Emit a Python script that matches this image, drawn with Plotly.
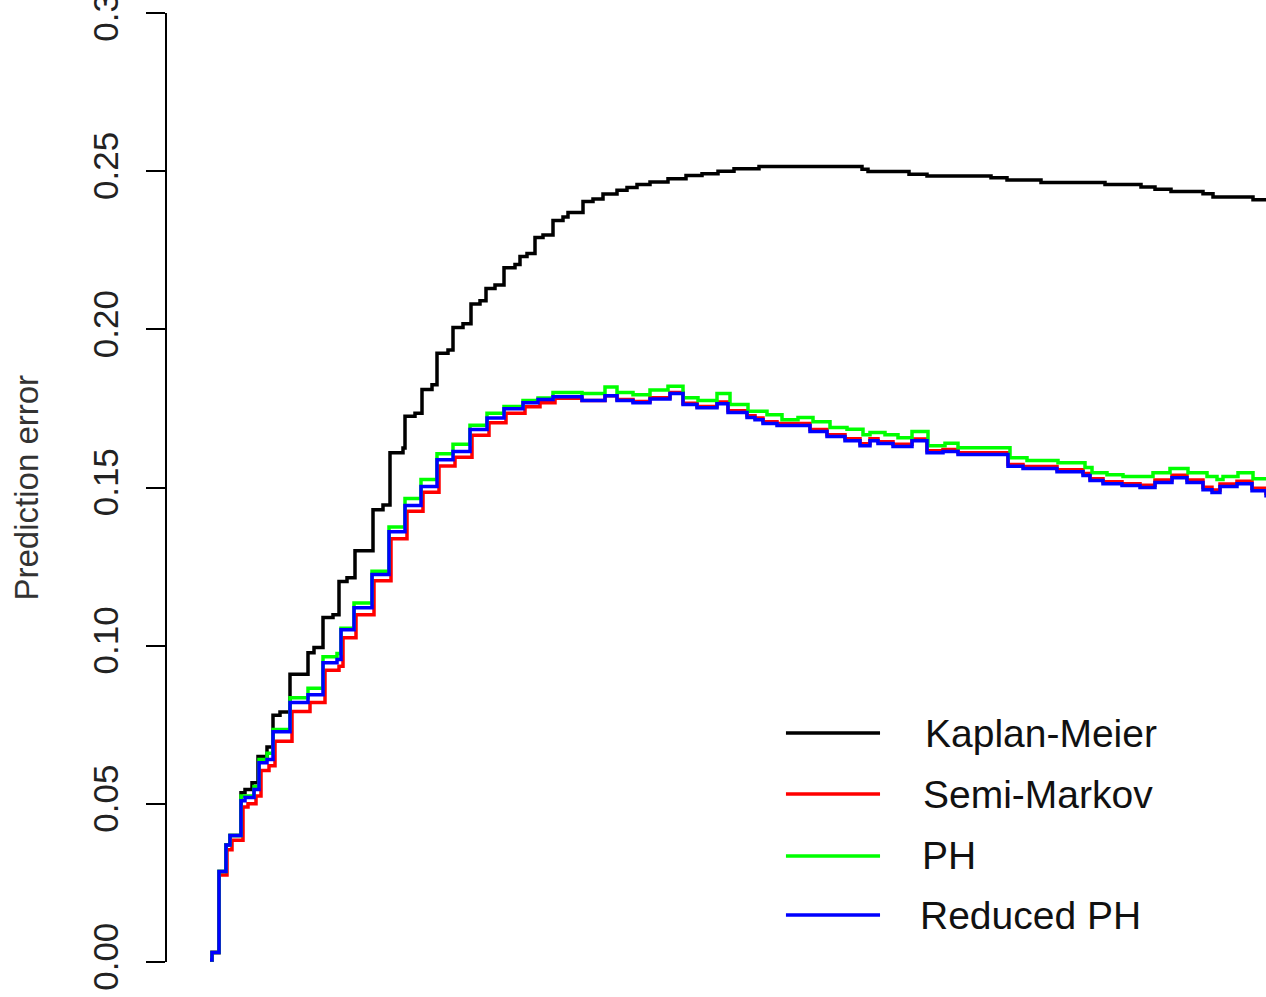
import plotly.graph_objects as go

# ---- data (time in days, prediction error) ----
km_t = [0, 2, 9, 16, 20, 31, 35, 42, 48, 57, 63, 70, 80, 98, 104, 113, 123, 129, 137, 145,
        163, 173, 180, 193, 195, 205, 212, 222, 227, 238, 243, 253, 261, 270, 276, 285, 294,
        305, 310, 317, 325, 333, 343, 353, 358, 373, 383, 393, 407, 417, 427, 440, 458, 476,
        492, 508, 524, 549, 652, 658, 699, 717, 781, 797, 831, 895, 931, 945, 961, 993, 1003,
        1043, 1056]
km_v = [0.0006, 0.003, 0.0286, 0.037, 0.040, 0.0535, 0.0545, 0.0567, 0.065, 0.068, 0.078,
        0.079, 0.091, 0.0978, 0.0994, 0.1089, 0.1098, 0.1203, 0.1215, 0.130, 0.143, 0.1445,
        0.161, 0.1625, 0.1725, 0.1735, 0.181, 0.1825, 0.1924, 0.1935, 0.2006, 0.2018, 0.208,
        0.209, 0.2129, 0.214, 0.2195, 0.2205, 0.2230, 0.2240, 0.229, 0.2298, 0.2344, 0.2355,
        0.2369, 0.2404, 0.2412, 0.2428, 0.2440, 0.2448, 0.2458, 0.2466, 0.2476, 0.2486,
        0.2492, 0.2500, 0.2508, 0.2515, 0.2506, 0.2499, 0.2490, 0.2485, 0.2479, 0.2472,
        0.2464, 0.2458, 0.2450, 0.2443, 0.2436, 0.2429, 0.2418, 0.2410, 0.2410]

sm_t = [0, 2, 9, 17, 22, 33, 38, 46, 51, 59, 65, 82, 100, 115, 129, 133, 146, 164, 181, 197,
        213, 229, 245, 262, 279, 296, 315, 330, 345, 372, 395, 407, 423, 440, 460, 473, 487,
        507, 518, 537, 545, 553, 567, 600, 617, 635, 650, 660, 668, 683, 702, 717, 733, 748,
        798, 813, 847, 873, 880, 893, 912, 930, 945, 962, 977, 993, 1002, 1010, 1027, 1042,
        1056]
sm_v = [0.0006, 0.003, 0.0275, 0.0355, 0.0385, 0.049, 0.050, 0.0525, 0.0605, 0.062, 0.0698,
        0.0792, 0.082, 0.0922, 0.0935, 0.1025, 0.1098, 0.1205, 0.1338, 0.1425, 0.1485, 0.1568,
        0.1596, 0.1665, 0.1705, 0.1735, 0.1755, 0.1768, 0.1782, 0.1775, 0.1790, 0.1778,
        0.1772, 0.1784, 0.1800, 0.1766, 0.1756, 0.1770, 0.1743, 0.1727, 0.1720, 0.1708,
        0.1702, 0.1683, 0.1667, 0.1654, 0.1638, 0.1654, 0.1645, 0.1637, 0.1653, 0.1616,
        0.1620, 0.1610, 0.1573, 0.1566, 0.1556, 0.1544, 0.1528, 0.1518, 0.1512, 0.1507,
        0.1524, 0.1539, 0.1524, 0.1501, 0.1492, 0.1511, 0.1520, 0.1498, 0.1476]

ph_t = [0, 2, 9, 16, 20, 31, 44, 49, 57, 63, 80, 98, 113, 127, 131, 144, 162, 179, 195, 211,
        227, 243, 260, 277, 294, 313, 328, 343, 372, 395, 407, 423, 440, 458, 473, 488, 507,
        520, 538, 557, 572, 588, 603, 620, 637, 653, 660, 675, 688, 702, 718, 735, 748, 800,
        817, 848, 875, 882, 897, 913, 943, 960, 978, 997, 1007, 1013, 1028, 1043, 1056]
ph_v = [0.0006, 0.003, 0.0286, 0.037, 0.040, 0.0525, 0.0555, 0.064, 0.066, 0.0735, 0.0835,
        0.0865, 0.0965, 0.0975, 0.1055, 0.1135, 0.1235, 0.1375, 0.1465, 0.1525, 0.1607,
        0.1637, 0.1697, 0.1735, 0.1756, 0.1775, 0.1783, 0.1800, 0.1797, 0.1818, 0.1800,
        0.1793, 0.1808, 0.1820, 0.1784, 0.1775, 0.1797, 0.1762, 0.1741, 0.1730, 0.1714,
        0.1721, 0.1708, 0.1690, 0.1684, 0.1667, 0.1674, 0.1667, 0.1657, 0.1677, 0.1632,
        0.1640, 0.1626, 0.1594, 0.1585, 0.1578, 0.1563, 0.1547, 0.1540, 0.1535, 0.1547,
        0.1560, 0.1547, 0.1535, 0.1525, 0.1535, 0.1547, 0.1528, 0.1528]

rph_t = [0, 2, 9, 16, 20, 31, 35, 44, 49, 57, 63, 80, 98, 113, 127, 131, 144, 162, 179, 195,
         211, 227, 243, 260, 277, 294, 313, 328, 343, 372, 395, 407, 423, 440, 460, 473, 487,
         507, 518, 537, 545, 553, 567, 600, 617, 635, 650, 660, 668, 683, 702, 717, 733, 748,
         798, 813, 847, 873, 880, 893, 912, 930, 945, 962, 977, 993, 1002, 1010, 1027, 1042,
         1056]
rph_v = [0.0006, 0.003, 0.0286, 0.037, 0.040, 0.051, 0.052, 0.0545, 0.063, 0.064, 0.0728,
         0.082, 0.0845, 0.0946, 0.0956, 0.105, 0.112, 0.1225, 0.136, 0.1443, 0.1503, 0.1588,
         0.1614, 0.1683, 0.172, 0.1749, 0.1768, 0.1778, 0.1787, 0.1775, 0.179, 0.1775,
         0.1768, 0.178, 0.1797, 0.1762, 0.1752, 0.1765, 0.1737, 0.1721, 0.1714, 0.1702,
         0.1696, 0.1677, 0.1661, 0.1648, 0.1632, 0.1648, 0.1639, 0.163, 0.1648, 0.161,
         0.1614, 0.1604, 0.1567, 0.156, 0.155, 0.1538, 0.1522, 0.1512, 0.1506, 0.15, 0.1516,
         0.1531, 0.1516, 0.1493, 0.1484, 0.1503, 0.1512, 0.149, 0.1468]

series_names = ["Kaplan-Meier", "Semi-Markov", "PH", "Reduced PH"]
series_colors = ["#000000", "#ff0000", "#00ff00", "#0000ff"]
series_t = [km_t, sm_t, ph_t, rph_t]
series_v = [km_v, sm_v, ph_v, rph_v]

y_ticks = [0.00, 0.05, 0.10, 0.15, 0.20, 0.25, 0.30]
y_ticktext = ["0.00", "0.05", "0.10", "0.15", "0.20", "0.25", "0.30"]

FONT = "Liberation Sans, Arial, sans-serif"

fig = go.Figure()
for name, col, t, v in zip(series_names, series_colors, series_t, series_v):
    fig.add_trace(go.Scatter(x=t, y=v, mode="lines", name=name,
                             line=dict(color=col, width=3.5, shape="hv"),
                             showlegend=False))

# legend drawn manually (R-style)
leg_x0, leg_x1, leg_tx = 0.5632, 0.6488, 0.686
leg_y = [0.2413, 0.1770, 0.1117, 0.0495]
leg_tx_off = [0.002, 0.0, -0.001, -0.003]
for name, col, yy, dx in zip(series_names, series_colors, leg_y, leg_tx_off):
    fig.add_shape(type="line", xref="paper", yref="paper", x0=leg_x0, x1=leg_x1,
                  y0=yy, y1=yy, line=dict(color=col, width=3.5))
    fig.add_annotation(xref="paper", yref="paper", x=leg_tx + dx, y=yy, text=name,
                       showarrow=False, xanchor="left", yanchor="middle",
                       font=dict(family=FONT, size=39, color="#111111"))

fig.add_annotation(xref="paper", yref="paper", x=-0.1274, y=0.5, text="Prediction error",
                   textangle=-90, showarrow=False, xanchor="center", yanchor="middle",
                   font=dict(family=FONT, size=33, color="#333333"))

fig.update_layout(
    width=1266, height=997,
    margin=dict(l=167, r=0, t=13, b=35, pad=0, autoexpand=False),
    plot_bgcolor="white", paper_bgcolor="white",
    xaxis=dict(range=[-43, 1056], visible=False, automargin=False),
    yaxis=dict(range=[0, 0.30], tickvals=y_ticks, ticktext=y_ticktext,
               automargin=False,
               showline=True, linecolor="#000000", linewidth=2,
               ticks="outside", ticklen=19, tickwidth=2, tickcolor="#000000",
               tickangle=-90, showgrid=False, zeroline=False,
               ticklabeloverflow="allow", ticklabelstandoff=14,
               tickfont=dict(family=FONT, size=35, color="#222222")),
)

fig.write_html("out.html")
